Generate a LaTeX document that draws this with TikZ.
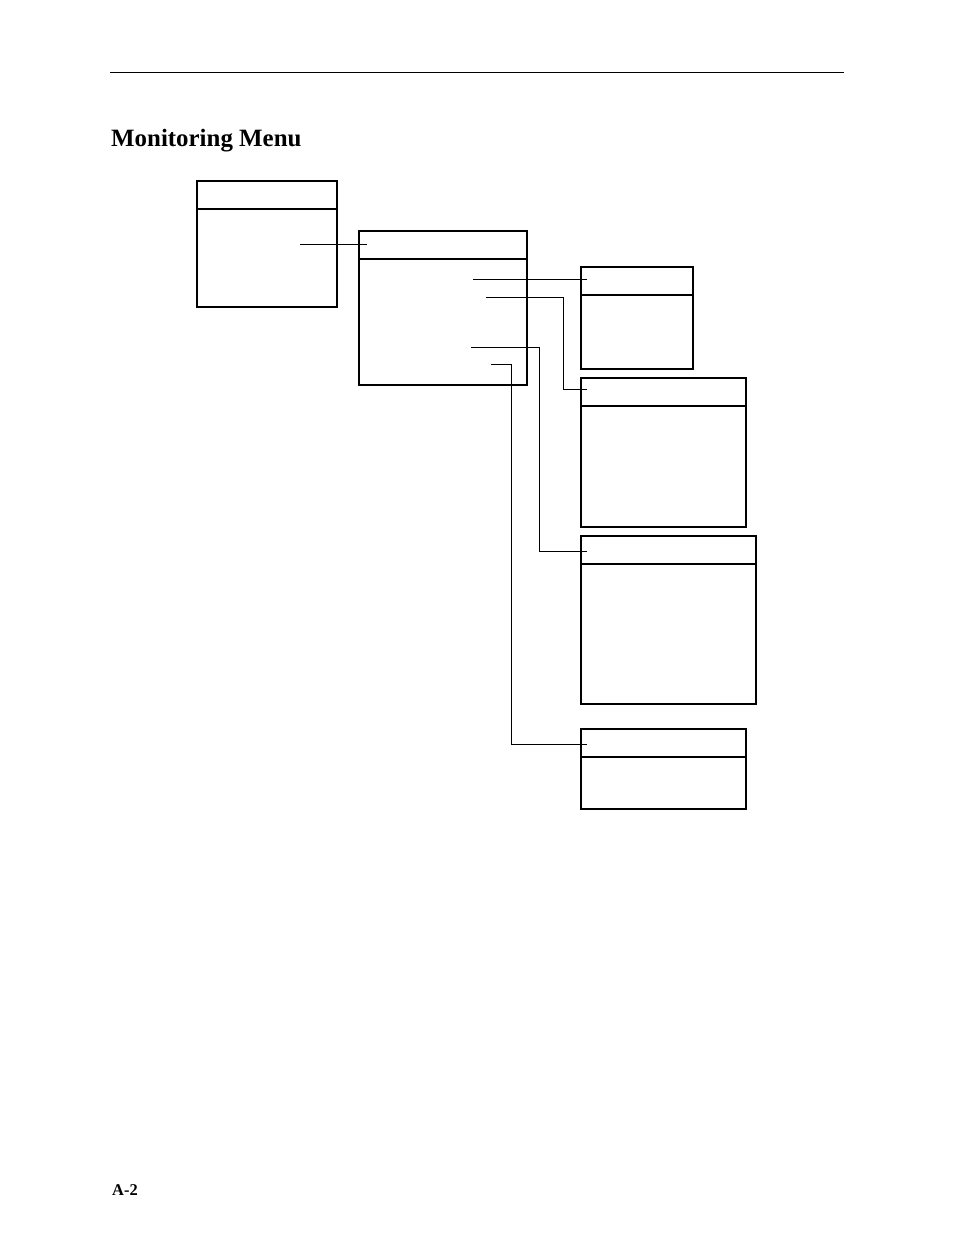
\documentclass[tikz,border=0pt]{standalone}
\usepackage{fontspec}
\setmainfont{Liberation Serif}
\usepackage{tikz}

\tikzset{
  menubox/.style={draw,line width=1.8pt,rectangle,anchor=north west,inner sep=0pt,outer sep=0pt,minimum width=#1},
  link/.style={line width=0.9pt},
  divider/.style={line width=1.8pt}
}

\begin{document}
\begin{tikzpicture}[x=1bp,y=-1bp]
\useasboundingbox (0,0) rectangle (954,1235);
% page rule and headings
\coordinate (ruleL) at (110,72);
\coordinate (ruleR) at (844,72);
\draw[line width=0.9pt] (ruleL) -- (ruleR);
\node[anchor=base west,inner sep=0pt,font=\bfseries\fontsize{25}{28}\selectfont] (title) at (111,146.5) {Monitoring Menu};
\node[anchor=base west,inner sep=0pt,font=\bfseries\fontsize{16.5}{18}\selectfont] (pageno) at (112,1195) {A-2};

% menu boxes
\node[menubox=140bp,minimum height=126bp] (main) at (197,181) {};
\node[menubox=168bp,minimum height=154bp] (monitor) at (359,231) {};
\node[menubox=112bp,minimum height=102bp] (subA) at (581,267) {};
\node[menubox=165bp,minimum height=149bp] (subB) at (581,378) {};
\node[menubox=175bp,minimum height=168bp] (subC) at (581,536) {};
\node[menubox=165bp,minimum height=80bp] (subD) at (581,729) {};

% header lines
\draw[line width=2.6pt] (main.north west) ++(0,28) -- ++(140,0);
\foreach \b/\w in {monitor/168,subA/112,subB/165,subC/175,subD/165}
  \draw[divider] (\b.north west) ++(0,28) -- ++(\w,0);

% connectors
\coordinate (mainItem) at (300,244);
\coordinate (monHead) at (367,244);
\draw[link] (mainItem) -- (monHead);

\coordinate (itemA) at (473,279);
\coordinate (itemB) at (486,297);
\coordinate (itemC) at (471,347);
\coordinate (itemD) at (491,364);
\coordinate (headA) at (587,279);
\coordinate (headB) at (587,389);
\coordinate (headC) at (587,551);
\coordinate (headD) at (587,744);
\draw[link] (itemA) -- (headA);
\draw[link] (itemB) -| (563,389) -- (headB);
\draw[link] (itemC) -| (539,551) -- (headC);
\draw[link] (itemD) -| (511,744) -- (headD);
\end{tikzpicture}
\end{document}
